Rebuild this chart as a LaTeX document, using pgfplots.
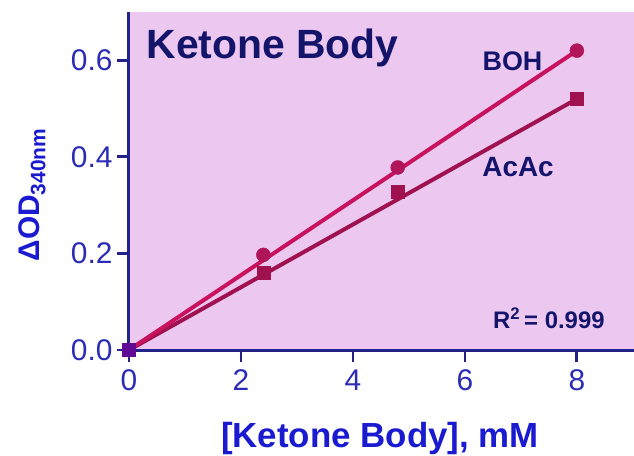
\documentclass[border=0pt]{standalone}
\usepackage{pgfplots}
\pgfplotsset{compat=1.18}
\usepackage{fontspec}
\setmainfont{Liberation Sans}
\definecolor{bgc}{HTML}{ECC8F0}
\definecolor{axc}{HTML}{22228A}
\definecolor{bohc}{HTML}{C8125E}
\definecolor{acac}{HTML}{A0124F}
\definecolor{dotc}{HTML}{B0155A}
\definecolor{titc}{HTML}{14146B}
\definecolor{tickc}{HTML}{2B2BB5}
\definecolor{labc}{HTML}{1A1AD0}
\begin{document}
\begin{tikzpicture}
\useasboundingbox (-129bp,-106bp) rectangle (505bp,350bp);
\begin{axis}[
  at={(0,0)}, anchor=origin,
  scale only axis, width=505bp, height=338bp,
  xmin=0, xmax=9.02, ymin=0, ymax=0.70,
  axis x line=bottom, axis y line=left,
  axis line style={-, line width=3bp, color=axc},
  axis background/.style={fill=bgc},
  xtick={0,2,4,6,8}, ytick={0,0.2,0.4,0.6},
  tick align=outside, major tick length=12bp,
  tick style={line width=2.8bp, color=axc},
  /pgf/number format/assume math mode=true,
  yticklabel={\pgfmathprintnumber[fixed,precision=1,zerofill]{\tick}},
  xticklabel style={font=\fontsize{30}{31}\selectfont, text=tickc, yshift=-4bp},
  yticklabel style={font=\fontsize{30}{31}\selectfont, text=tickc, xshift=-1bp},
  clip=false,
  xlabel={[Ketone Body], mM},
  xlabel style={at={(axis description cs:0.497,-0.262)}, anchor=center, font=\bfseries\fontsize{35}{37}\selectfont, text=labc},
  ylabel={ΔOD\textsubscript{340nm}},
  ylabel style={at={(axis description cs:-0.192,0.459)}, anchor=center, font=\bfseries\fontsize{30}{32}\selectfont, text=labc},
]
\addplot[acac, line width=4bp, no marks] coordinates {(0,0) (8,0.52)};
\addplot[bohc, line width=4bp, no marks] coordinates {(0,0) (8,0.62)};
\addplot[only marks, mark=square*, mark size=6.5bp, mark options={draw=acac, fill=acac}] coordinates {(2.4,0.160) (4.8,0.327) (8,0.520)};
\addplot[only marks, mark=square*, mark size=6.5bp, mark options={draw=acac!60!blue, fill=acac!60!blue}] coordinates {(0,0)};
\addplot[only marks, mark=*, mark size=7bp, mark options={draw=dotc, fill=dotc}] coordinates {(2.4,0.197) (4.8,0.378) (8,0.620)};
\node[font=\bfseries\fontsize{41}{44}\selectfont, text=titc, anchor=west] at (axis cs:0.25,0.625) {Ketone Body};
\node[font=\bfseries\fontsize{27}{30}\selectfont, text=titc] at (axis cs:6.85,0.597) {BOH};
\node[font=\bfseries\fontsize{28}{30}\selectfont, text=titc] at (axis cs:6.95,0.378) {AcAc};
\node[font=\bfseries\fontsize{24}{26}\selectfont, text=titc] at (axis cs:7.5,0.066) {R\textsuperscript{2}\,= 0.999};
\end{axis}
\end{tikzpicture}
\end{document}
